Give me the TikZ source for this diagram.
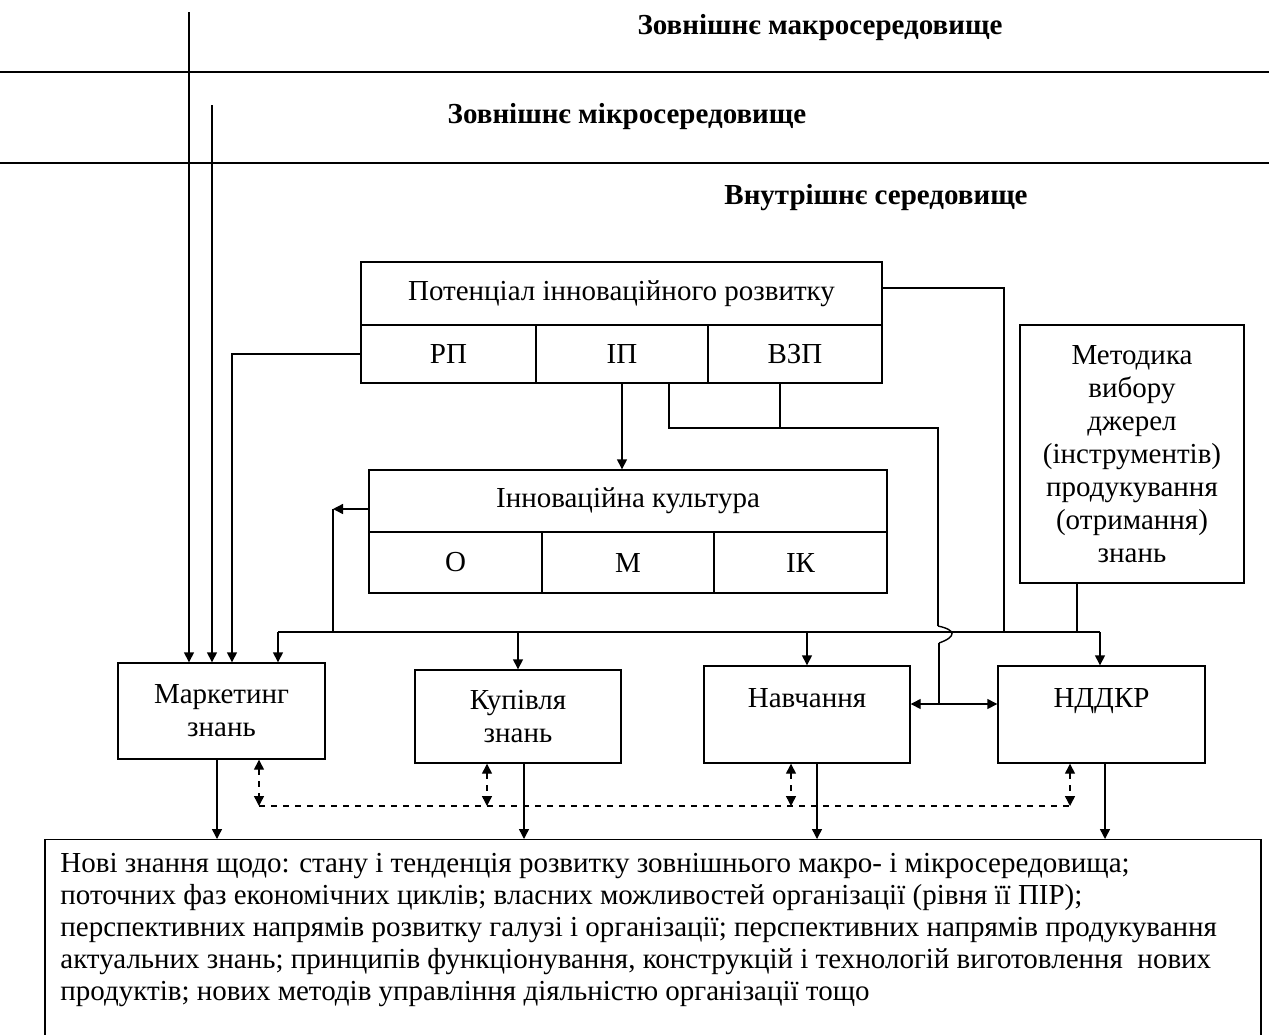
\documentclass[tikz,border=0pt]{standalone}
\usepackage{fontspec}
\setmainfont{Liberation Serif}
\usetikzlibrary{arrows.meta,positioning}

\tikzset{
 box/.style={draw,line width=0.7pt,inner sep=0pt,align=center,font=\fontsize{14.5}{16.5}\selectfont},
 hd/.style={font=\bfseries\fontsize{14.5}{16}\selectfont,inner sep=0pt},
 ln/.style={line width=0.7pt},
 ar/.style={ln,-{Triangle[length=5pt,width=5pt]}},
 arr/.style={ln,{Triangle[length=5pt,width=5pt]}-{Triangle[length=5pt,width=5pt]}},
 dar/.style={ln,dashed,{Triangle[length=5pt,width=5pt]}-{Triangle[length=5pt,width=5pt]}}
}

\begin{document}
\begin{tikzpicture}[x=0.5pt,y=-0.5pt]
\useasboundingbox (0,0) rectangle (1269,1034);
\node[hd] (mac) at (820,28) {Зовнішнє макросередовище};
\node[hd] (mic) at (627,117) {Зовнішнє мікросередовище};
\node[hd] (inn) at (876,198) {Внутрішнє середовище};
\draw[ln] (0,72) -- (1269,72);
\draw[ln] (0,163) -- (1269,163);

\node[box,minimum width=260.5pt,minimum height=31.5pt] (pot) at (621.5,293.5) {Потенціал інноваційного розвитку};
\node[box,minimum width=87.5pt,minimum height=29pt] (rp) at (448.5,354) {РП};
\node[box,minimum width=86pt,minimum height=29pt] (ip) at (622,354) {ІП};
\node[box,minimum width=87pt,minimum height=29pt] (vzp) at (795,354) {ВЗП};

\node[box,minimum width=259pt,minimum height=31pt] (cult) at (628,501) {Інноваційна культура};
\node[box,minimum width=86.5pt,minimum height=30.5pt] (o) at (455.5,562.5) {О};
\node[box,minimum width=86pt,minimum height=30.5pt] (m) at (628,562.5) {М};
\node[box,minimum width=86.5pt,minimum height=30.5pt] (ik) at (800.5,562.5) {ІК};

\node[box,minimum width=112pt,minimum height=129pt] (meth) at (1132,454)
 {Методика\\вибору\\джерел\\(інструментів)\\продукування\\(отримання)\\знань};

\node[box,minimum width=103.5pt,minimum height=48pt] (mark) at (221.5,711) {Маркетинг\\знань};
\node[box,minimum width=103pt,minimum height=46.5pt] (buy) at (518,716.5) {Купівля\\знань};
\node[box,minimum width=103pt,minimum height=48.5pt] (edu) at (807,714.5) {Навчання\\~};
\node[box,minimum width=103.5pt,minimum height=48.5pt] (ndd) at (1101.5,714.5) {НДДКР\\~};

\node[box,minimum width=608pt,minimum height=110pt,anchor=north] (newk) at (653,839) {};
\node[anchor=north west,align=left,inner sep=0pt,font=\fontsize{14.5}{16}\selectfont] (newt) at (60,853)
 {Нові знання щодо: стану і тенденція розвитку зовнішнього макро- і мікросередовища;\\
 поточних фаз економічних циклів; власних можливостей організації (рівня її ПІР);\\
 перспективних напрямів розвитку галузі і організації; перспективних напрямів продукування\\
 актуальних знань; принципів функціонування, конструкцій і технологій виготовлення \ нових\\
 продуктів; нових методів управління діяльністю організації тощо};

\coordinate (t1) at (189,12);
\coordinate (t2) at (212,105);
\coordinate (k1) at (232,355);
\coordinate (j1) at (669,428);
\coordinate (j2) at (938,428);
\coordinate (j3) at (780,428);
\coordinate (h1) at (938,626);
\coordinate (h2) at (939,643);
\coordinate (hb) at (939,704);
\coordinate (r0) at (1004,288);
\coordinate (r1) at (1004,632);
\coordinate (r2) at (1077,632);
\coordinate (b0) at (278,632);
\coordinate (b1) at (1100,632);
\coordinate (w1) at (333,509);
\coordinate (d0) at (259,806);
\coordinate (d2) at (487,806);
\coordinate (d3) at (791,806);
\coordinate (d1) at (1070,806);
\coordinate (s1) at (217,0);
\coordinate (s2) at (524,0);
\coordinate (s3) at (817,0);
\coordinate (s4) at (1105,0);

\draw[ar] (t1) -- (t1 |- mark.north);
\draw[ar] (t2) -- (t2 |- mark.north);
\draw[ar] (rp.west) -| (k1 |- mark.north);
\draw[ar] (ip.south) -- (ip.south |- cult.north);
\draw[ln] (j1 |- ip.south) |- (j2) -- (h1);
\draw[ln] (h1) .. controls (957,630) and (956,637) .. (h2);
\draw[ln] (h2) -- (hb);
\draw[ln] (j3 |- vzp.south) -- (j3);
\draw[arr] (edu.east |- hb) -- (ndd.west |- hb);
\draw[ln] (r0 -| pot.east) -- (r0) -- (r1);
\draw[ln] (r2 |- meth.south) -- (r2);

\draw[ln] (b0) -- (b1);
\draw[ar] (b0) -- (b0 |- mark.north);
\draw[ar] (buy.north |- b0) -- (buy.north);
\draw[ar] (edu.north |- b0) -- (edu.north);
\draw[ar] (b1) -- (b1 |- ndd.north);
\draw[ar] (w1 -| cult.west) -- (w1);
\draw[ln] (w1) -- (w1 |- b0);

\draw[ln,dashed] (d0) -- (d1);
\draw[dar] (d0 |- mark.south) -- (d0);
\draw[dar] (d2 |- buy.south) -- (d2);
\draw[dar] (d3 |- edu.south) -- (d3);
\draw[dar] (d1 |- ndd.south) -- (d1);

\draw[ar] (s1 |- mark.south) -- (s1 |- newk.north);
\draw[ar] (s2 |- buy.south) -- (s2 |- newk.north);
\draw[ar] (s3 |- edu.south) -- (s3 |- newk.north);
\draw[ar] (s4 |- ndd.south) -- (s4 |- newk.north);
\end{tikzpicture}
\end{document}
